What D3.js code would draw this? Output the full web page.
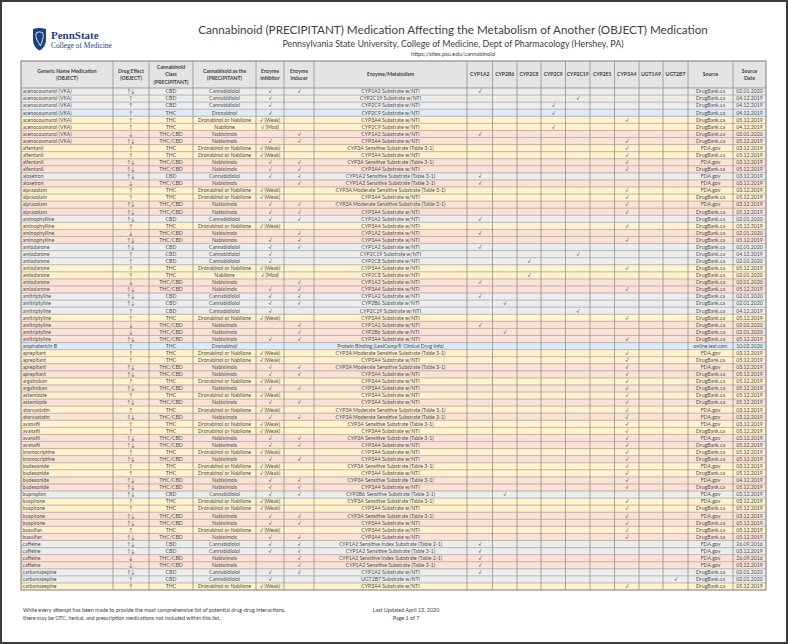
<!DOCTYPE html>
<html>
<head>
<meta charset="utf-8">
<script src="https://cdnjs.cloudflare.com/ajax/libs/d3/7.8.5/d3.min.js"></script>
<style>
  body { margin: 0; background: #fff; }
  svg { display: block; font-family: Lato, "Open Sans", sans-serif; }
</style>
</head>
<body>
<svg id="chart"></svg>
<script>
// ---- table data (one entry per row) ----
const medications = [
  "acenocoumarol (VKA)", "acenocoumarol (VKA)", "acenocoumarol (VKA)", "acenocoumarol (VKA)",
  "acenocoumarol (VKA)", "acenocoumarol (VKA)", "acenocoumarol (VKA)", "acenocoumarol (VKA)",
  "alfentanil", "alfentanil", "alfentanil", "alfentanil",
  "alosetron", "alosetron",
  "alprazolam", "alprazolam", "alprazolam", "alprazolam",
  "aminophylline", "aminophylline", "aminophylline", "aminophylline",
  "amiodarone", "amiodarone", "amiodarone", "amiodarone", "amiodarone", "amiodarone", "amiodarone",
  "amitriptyline", "amitriptyline", "amitriptyline", "amitriptyline", "amitriptyline", "amitriptyline", "amitriptyline",
  "amphotericin B",
  "aprepitant", "aprepitant", "aprepitant", "aprepitant",
  "argatroban", "argatroban",
  "astemizole", "astemizole",
  "atorvastatin", "atorvastatin",
  "avanafil", "avanafil", "avanafil", "avanafil",
  "bromocriptine", "bromocriptine",
  "budesonide", "budesonide", "budesonide", "budesonide",
  "bupropion",
  "buspirone", "buspirone", "buspirone", "buspirone",
  "busulfan", "busulfan",
  "caffeine", "caffeine", "caffeine", "caffeine",
  "carbamazepine", "carbamazepine", "carbamazepine"
];

const effects = [
  "↑↓", "↑", "↑", "↑", "↑", "↑", "↓", "↑↓",
  "↑", "↑", "↑↓", "↑↓",
  "↑↓", "↓",
  "↑", "↑", "↑↓", "↑↓",
  "↑↓", "↑", "↓", "↑↓",
  "↑↓", "↑", "↑", "↑", "↑", "↓", "↑↓",
  "↑↓", "↑↓", "↑", "↑", "↓", "↓", "↑↓",
  "↑",
  "↑", "↑", "↑↓", "↑↓",
  "↑", "↑↓",
  "↑", "↑↓",
  "↑", "↑↓",
  "↑", "↑", "↑↓", "↑↓",
  "↑", "↑↓",
  "↑", "↑", "↑↓", "↑↓",
  "↑↓",
  "↑", "↑", "↑↓", "↑↓",
  "↑", "↑↓",
  "↑↓", "↑↓", "↓", "↓",
  "↑↓", "↑", "↑"
];

const classes = [
  "CBD", "CBD", "CBD", "THC", "THC", "THC", "THC/CBD", "THC/CBD",
  "THC", "THC", "THC/CBD", "THC/CBD",
  "CBD", "THC/CBD",
  "THC", "THC", "THC/CBD", "THC/CBD",
  "CBD", "THC", "THC/CBD", "THC/CBD",
  "CBD", "CBD", "CBD", "THC", "THC", "THC/CBD", "THC/CBD",
  "CBD", "CBD", "CBD", "THC", "THC/CBD", "THC/CBD", "THC/CBD",
  "THC",
  "THC", "THC", "THC/CBD", "THC/CBD",
  "THC", "THC/CBD",
  "THC", "THC/CBD",
  "THC", "THC/CBD",
  "THC", "THC", "THC/CBD", "THC/CBD",
  "THC", "THC/CBD",
  "THC", "THC", "THC/CBD", "THC/CBD",
  "CBD",
  "THC", "THC", "THC/CBD", "THC/CBD",
  "THC", "THC/CBD",
  "CBD", "CBD", "THC/CBD", "THC/CBD",
  "CBD", "CBD", "THC"
];

const CB = "Cannabidiolol", DR = "Dronabinol", DN = "Dronabinol or Nabilone", NB = "Nabilone", NX = "Nabiximols";
const precipitants = [
  CB, CB, CB, DR, DN, NB, NX, NX,
  DN, DN, NX, NX,
  CB, NX,
  DN, DN, NX, NX,
  CB, DN, NX, NX,
  CB, CB, CB, DN, NB, NX, NX,
  CB, CB, CB, DN, NX, NX, NX,
  DR,
  DN, DN, NX, NX,
  DN, NX,
  DN, NX,
  DN, NX,
  DN, DN, NX, NX,
  DN, NX,
  DN, DN, NX, NX,
  CB,
  DN, DN, NX, NX,
  DN, NX,
  CB, CB, NX, NX,
  CB, CB, DN
];

const Y = "√", W = "√ (Weak)", M = "√ (Mod)";
const inhibitors = [
  Y, Y, Y, Y, W, M, "", Y,
  W, W, Y, Y,
  Y, "",
  W, W, Y, Y,
  Y, W, "", Y,
  Y, Y, Y, W, M, "", Y,
  Y, Y, Y, W, "", "", Y,
  "",
  W, W, Y, Y,
  W, Y,
  W, Y,
  W, Y,
  W, W, Y, Y,
  W, Y,
  W, W, Y, Y,
  Y,
  W, W, Y, Y,
  W, Y,
  Y, Y, "", "",
  Y, Y, W
];

const inducers = [
  Y, "", "", "", "", "", Y, Y,
  "", "", Y, Y,
  Y, Y,
  "", "", Y, Y,
  Y, "", Y, Y,
  Y, "", "", "", "", Y, Y,
  Y, Y, "", "", Y, Y, Y,
  "",
  "", "", Y, Y,
  "", Y,
  "", Y,
  "", Y,
  "", "", Y, Y,
  "", Y,
  "", "", Y, Y,
  Y,
  "", "", Y, Y,
  "", Y,
  Y, Y, Y, Y,
  Y, "", ""
];

const NTI = " Substrate w/NTI", S31 = "CYP3A Sensitive Substrate (Table 3-1)", MS31 = "CYP3A Moderate Sensitive Substrate (Table 3-1)";
const enzymes = [
  "CYP1A2" + NTI, "CYP2C19" + NTI, "CYP2C9" + NTI, "CYP2C9" + NTI, "CYP3A4" + NTI, "CYP2C9" + NTI, "CYP1A2" + NTI, "CYP3A4" + NTI,
  S31, "CYP3A4" + NTI, S31, "CYP3A4" + NTI,
  "CYP1A2 Sensitive Substrate (Table 3-1)", "CYP1A2 Sensitive Substrate (Table 3-1)",
  MS31, "CYP3A4" + NTI, MS31, "CYP3A4" + NTI,
  "CYP1A2" + NTI, "CYP3A4" + NTI, "CYP1A2" + NTI, "CYP3A4" + NTI,
  "CYP1A2" + NTI, "CYP2C19" + NTI, "CYP2C8" + NTI, "CYP3A4" + NTI, "CYP2C8" + NTI, "CYP1A2" + NTI, "CYP3A4" + NTI,
  "CYP1A2" + NTI, "CYP2B6" + NTI, "CYP2C19" + NTI, "CYP3A4" + NTI, "CYP1A2" + NTI, "CYP2B6" + NTI, "CYP3A4" + NTI,
  "Protein Binding (LexiComp® Clinical Drug Info)",
  MS31, "CYP3A4" + NTI, MS31, "CYP3A4" + NTI,
  "CYP3A4" + NTI, "CYP3A4" + NTI,
  "CYP3A4" + NTI, "CYP3A4" + NTI,
  MS31, MS31,
  S31, "CYP3A4" + NTI, S31, "CYP3A4" + NTI,
  "CYP3A4" + NTI, "CYP3A4" + NTI,
  S31, "CYP3A4" + NTI, S31, "CYP3A4" + NTI,
  "CYP2B6 Sensitive Substrate (Table 3-1)",
  S31, "CYP3A4" + NTI, S31, "CYP3A4" + NTI,
  "CYP3A4" + NTI, "CYP3A4" + NTI,
  "CYP1A2 Sensitive Index Substrate (Table 2-1)", "CYP1A2 Sensitive Substrate (Table 3-1)",
  "CYP1A2 Sensitive Index Substrate (Table 2-1)", "CYP1A2 Sensitive Substrate (Table 3-1)",
  "CYP1A2" + NTI, "UGT2B7" + NTI, "CYP3A4" + NTI
];

// which enzyme column gets the tick
const checks = [
  "CYP1A2", "CYP2C19", "CYP2C9", "CYP2C9", "CYP3A4", "CYP2C9", "CYP1A2", "CYP3A4",
  "CYP3A4", "CYP3A4", "CYP3A4", "CYP3A4",
  "CYP1A2", "CYP1A2",
  "CYP3A4", "CYP3A4", "CYP3A4", "CYP3A4",
  "CYP1A2", "CYP3A4", "CYP1A2", "CYP3A4",
  "CYP1A2", "CYP2C19", "CYP2C8", "CYP3A4", "CYP2C8", "CYP1A2", "CYP3A4",
  "CYP1A2", "CYP2B6", "CYP2C19", "CYP3A4", "CYP1A2", "CYP2B6", "CYP3A4",
  "",
  "CYP3A4", "CYP3A4", "CYP3A4", "CYP3A4",
  "CYP3A4", "CYP3A4",
  "CYP3A4", "CYP3A4",
  "CYP3A4", "CYP3A4",
  "CYP3A4", "CYP3A4", "CYP3A4", "CYP3A4",
  "CYP3A4", "CYP3A4",
  "CYP3A4", "CYP3A4", "CYP3A4", "CYP3A4",
  "CYP2B6",
  "CYP3A4", "CYP3A4", "CYP3A4", "CYP3A4",
  "CYP3A4", "CYP3A4",
  "CYP1A2", "CYP1A2", "CYP1A2", "CYP1A2",
  "CYP1A2", "UGT2B7", "CYP3A4"
];

const DB = "DrugBank.ca", FDA = "FDA.gov";
const sources = [
  DB, DB, DB, DB, DB, DB, DB, DB,
  FDA, DB, FDA, DB,
  FDA, FDA,
  FDA, DB, FDA, DB,
  DB, DB, DB, DB,
  DB, DB, DB, DB, DB, DB, DB,
  DB, DB, DB, DB, DB, DB, DB,
  "online.lexi.com",
  FDA, DB, FDA, DB,
  DB, DB,
  DB, DB,
  FDA, FDA,
  FDA, DB, FDA, DB,
  DB, DB,
  FDA, DB, FDA, DB,
  FDA,
  FDA, DB, FDA, DB,
  DB, DB,
  FDA, FDA, FDA, FDA,
  DB, DB, DB
];

const dates = [
  "02.01.2020", "04.12.2019", "04.12.2019", "04.12.2019", "05.12.2019", "04.12.2019", "02.01.2020", "05.12.2019",
  "03.12.2019", "05.12.2019", "03.12.2019", "05.12.2019",
  "03.12.2019", "03.12.2019",
  "03.12.2019", "05.12.2019", "03.12.2019", "05.12.2019",
  "02.01.2020", "05.12.2019", "02.01.2020", "05.12.2019",
  "02.01.2020", "04.12.2019", "02.01.2020", "05.12.2019", "02.01.2020", "02.01.2020", "05.12.2019",
  "02.01.2020", "02.01.2020", "04.12.2019", "05.12.2019", "02.01.2020", "02.01.2020", "05.12.2019",
  "10.02.2020",
  "03.12.2019", "05.12.2019", "03.12.2019", "05.12.2019",
  "05.12.2019", "05.12.2019",
  "05.12.2019", "05.12.2019",
  "03.12.2019", "03.12.2019",
  "03.12.2019", "05.12.2019", "03.12.2019", "05.12.2019",
  "05.12.2019", "05.12.2019",
  "03.12.2019", "05.12.2019", "04.12.2019", "05.12.2019",
  "03.12.2019",
  "03.12.2019", "05.12.2019", "03.12.2019", "05.12.2019",
  "05.12.2019", "05.12.2019",
  "26.09.2016", "03.12.2019", "26.09.2016", "03.12.2019",
  "02.01.2020", "02.01.2020", "05.12.2019"
];

const enzymeColumns = ["CYP1A2", "CYP2B6", "CYP2C8", "CYP2C9", "CYP2C19", "CYP2E1", "CYP3A4", "UGT1A9", "UGT2B7"];

const headerLabels = [
  ["Generic Name Medication", "(OBJECT)"],
  ["Drug Effect", "(OBJECT)"],
  ["Cannabinoid", "Class", "(PRECIPITANT)"],
  ["Cannabinoid as the", "(PRECIPITANT)"],
  ["Enzyme", "Inhibitor"],
  ["Enzyme", "Inducer"],
  ["Enzyme/Metabolism"],
  ...enzymeColumns.map(e => [e]),
  ["Source"],
  ["Source", "Date"]
];

// ---- layout ----
const width = 788;
const height = 644;
const tableLeft = 21;
const headerTop = 61;
const headerBottom = 88;
const tableBottom = 590;
const colWidths = [92, 36, 44, 63, 28, 30, 153, 25.5, 24.5, 24, 24.5, 24.5, 24.5, 24.5, 24, 25, 45, 33];
const edges = [tableLeft, ...Array.from(d3.cumsum(colWidths), w => tableLeft + w)];
const tableRight = edges[edges.length - 1];
const textColor = "#4d4d4d";
const lineColor = "#8f8f8f";

const svg = d3.select("#chart").attr("width", width).attr("height", height);

// column index -> x (piecewise over the column edges)
const x = d3.scaleLinear().domain(d3.range(edges.length)).range(edges);
const y = d3.scaleBand().domain(d3.range(medications.length)).range([headerBottom, tableBottom]);
const rowFill = d3.scaleOrdinal()
  .domain([CB, DR, DN, NB, NX])
  .range(["#EDEDED", "#DDEBF7", "#FFF2CC", "#FFF2CC", "#FBE2D5"]);

const rows = medications.map((m, i) => [
  m, effects[i], classes[i], precipitants[i], inhibitors[i], inducers[i], enzymes[i],
  ...enzymeColumns.map(e => (checks[i] === e ? "√" : "")),
  sources[i], dates[i]
]);

// page frame
svg.append("rect")
  .attr("x", 1).attr("y", 1)
  .attr("width", width - 2).attr("height", height - 2)
  .attr("fill", "#fff")
  .attr("stroke", "#3c3c3c")
  .attr("stroke-width", 2);

// logo
const logo = svg.append("g");
logo.append("path")
  .attr("d", "M33,29 Q39.5,27 46,29 L46,40 Q46,47 39.5,50.5 Q33,47 33,40 Z")
  .attr("fill", "#1E407C");
logo.append("path")
  .attr("d", "M36,33 Q39,31 42.5,32.5 Q44,35 43,38 Q42,42 40.5,46 Q38.5,43 37,40 Q35.5,37 36,33 Z")
  .attr("fill", "none")
  .attr("stroke", "#fff")
  .attr("stroke-width", 0.8);
logo.append("text")
  .attr("x", 51).attr("y", 39)
  .attr("font-family", "'Liberation Serif', 'DejaVu Serif', serif")
  .attr("font-weight", "bold")
  .attr("font-size", 11)
  .attr("fill", "#1E407C")
  .text("PennState");
logo.append("text")
  .attr("x", 51).attr("y", 47.5)
  .attr("font-family", "'Liberation Serif', 'DejaVu Serif', serif")
  .attr("font-size", 7.4)
  .attr("fill", "#1E407C")
  .text("College of Medicine");

// titles
const cx = 453;
svg.append("text")
  .attr("x", cx).attr("y", 34)
  .attr("text-anchor", "middle")
  .attr("font-size", 11.7)
  .attr("fill", "#404040")
  .text("Cannabinoid (PRECIPITANT) Medication Affecting the Metabolism of Another (OBJECT) Medication");
svg.append("text")
  .attr("x", cx).attr("y", 47)
  .attr("text-anchor", "middle")
  .attr("font-size", 8.9)
  .attr("fill", "#404040")
  .text("Pennsylvania State University, College of Medicine, Dept of Pharmacology (Hershey, PA)");
svg.append("text")
  .attr("x", cx).attr("y", 56)
  .attr("text-anchor", "middle")
  .attr("font-size", 5.8)
  .attr("fill", "#404040")
  .text("https://sites.psu.edu/cannabinoid");

// header
svg.append("rect")
  .attr("x", tableLeft).attr("y", headerTop)
  .attr("width", tableRight - tableLeft).attr("height", headerBottom - headerTop)
  .attr("fill", "#E4E4E4");

const headerMid = (headerTop + headerBottom) / 2;
const lineH = 7.4;
svg.append("g")
  .selectAll("text")
  .data(headerLabels)
  .join("text")
  .attr("text-anchor", "middle")
  .attr("font-size", 5.1)
  .attr("font-weight", "bold")
  .attr("fill", "#404040")
  .each(function (lines, j) {
    d3.select(this).selectAll("tspan")
      .data(lines)
      .join("tspan")
      .attr("x", (x(j) + x(j + 1)) / 2)
      .attr("y", (d, k) => headerMid + (k - (lines.length - 1) / 2) * lineH)
      .attr("dy", "0.35em")
      .text(d => d);
  });

// body rows
const rowG = svg.append("g")
  .selectAll("g")
  .data(rows)
  .join("g")
  .attr("transform", (d, i) => `translate(0,${y(i)})`);

rowG.append("rect")
  .attr("x", tableLeft)
  .attr("width", tableRight - tableLeft)
  .attr("height", y.bandwidth())
  .attr("fill", (d, i) => rowFill(precipitants[i]));

rowG.selectAll("text")
  .data(d => d.map((v, j) => ({ v, j })))
  .join("text")
  .attr("x", d => (d.j === 0 ? x(0) + 1.5 : (x(d.j) + x(d.j + 1)) / 2))
  .attr("y", y.bandwidth() / 2)
  .attr("dy", "0.35em")
  .attr("text-anchor", d => (d.j === 0 ? "start" : "middle"))
  .attr("font-size", 5.2)
  .attr("fill", textColor)
  .text(d => d.v);

// grid
const grid = svg.append("g").attr("stroke", lineColor).attr("fill", "none");
grid.selectAll("line.h")
  .data(d3.range(1, medications.length))
  .join("line")
  .attr("class", "h")
  .attr("x1", tableLeft).attr("x2", tableRight)
  .attr("y1", i => y(i)).attr("y2", i => y(i))
  .attr("stroke-width", 0.6);
grid.append("line")
  .attr("x1", tableLeft).attr("x2", tableRight)
  .attr("y1", headerBottom).attr("y2", headerBottom)
  .attr("stroke-width", 0.9);
grid.selectAll("line.v")
  .data(d3.range(1, edges.length - 1))
  .join("line")
  .attr("class", "v")
  .attr("x1", j => x(j)).attr("x2", j => x(j))
  .attr("y1", headerTop).attr("y2", tableBottom)
  .attr("stroke-width", 0.8);
grid.append("rect")
  .attr("x", tableLeft).attr("y", headerTop)
  .attr("width", tableRight - tableLeft).attr("height", tableBottom - headerTop)
  .attr("stroke", "#7a7a7a")
  .attr("stroke-width", 1);

// footer
const foot = svg.append("g").attr("font-size", 5.4).attr("fill", "#404040");
foot.append("text").attr("x", 23).attr("y", 612)
  .text("While every attempt has been made to provide the most comprehensive list of potential drug-drug interactions,");
foot.append("text").attr("x", 23).attr("y", 620)
  .text("there may be OTC, herbal, and prescription medications not included within this list.");
foot.append("text").attr("x", 406).attr("y", 612).attr("text-anchor", "middle")
  .text("Last Updated April 13, 2020");
foot.append("text").attr("x", 406).attr("y", 620).attr("text-anchor", "middle")
  .text("Page 1 of 7");
</script>
</body>
</html>
